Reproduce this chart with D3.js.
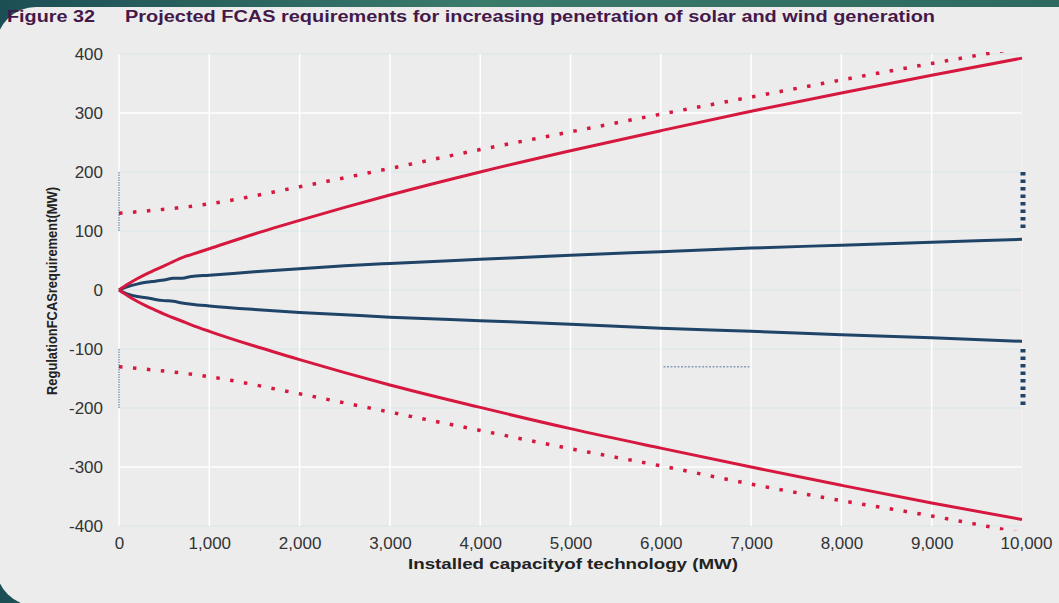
<!DOCTYPE html>
<html>
<head>
<meta charset="utf-8">
<script src="https://cdn.jsdelivr.net/npm/d3@7"></script>
<style>
  html, body { margin: 0; padding: 0; background: #2a6462; }
  svg { display: block; }
</style>
</head>
<body>
<svg id="chart" width="1059" height="603"></svg>
<script>
// Installed capacity (MW) sampled along the projection curves
const capacity = [0, 100, 200, 300, 400, 500, 600, 700, 800, 1000, 1500, 2000, 2500, 3000, 4000, 5000, 6000, 7000, 8000, 9000, 10000];

// Regulation FCAS requirement (MW)
const solarRaiseUpper = [0, 10, 19, 27, 34, 41, 48, 55, 60, 70, 95, 118, 140, 161, 200, 236, 270, 303, 334, 364, 393];
const solarLowerUpper = [0, -10, -19, -27, -34, -41, -47, -53, -59, -70, -95, -118, -140, -161, -199, -235, -268, -300, -331, -361, -389];
const windRaiseUpper  = [0, 6, 10, 13, 15, 17, 20, 20, 23, 25, 31, 36, 41, 45, 52, 59, 65, 71, 76, 81, 86];
const windLowerUpper  = [0, -7, -11, -13, -16, -18, -19, -22, -24, -27, -33, -38, -42, -46, -52, -58, -65, -70, -76, -81, -87];

// Dotted bounds
const boundCapacity = [0, 1000, 2000, 3000, 4000, 5000, 6000, 7000, 8000, 9000, 10000];
const boundUpper = [130, 146, 175, 206, 238, 268, 298, 327, 356, 384, 411];
const boundLower = [-130, -147, -176, -207, -238, -269, -298, -329, -357, -383, -412];

// Tick labels
const xTicks = [0, 1000, 2000, 3000, 4000, 5000, 6000, 7000, 8000, 9000, 10000];
const yTicks = [400, 300, 200, 100, 0, -100, -200, -300, -400];

const svg = d3.select("#chart");
const W = 1059, H = 603;

// Frame: teal backdrop with a light rounded panel
const defs = svg.append("defs");
const grad = defs.append("linearGradient").attr("id", "band").attr("x1", "0").attr("x2", "1").attr("y1", "0").attr("y2", "0");
grad.append("stop").attr("offset", "0").attr("stop-color", "#1c4f55");
grad.append("stop").attr("offset", "0.45").attr("stop-color", "#3a7a6b");
grad.append("stop").attr("offset", "1").attr("stop-color", "#2d695f");
svg.append("rect").attr("width", W).attr("height", H).attr("fill", "url(#band)");
svg.append("rect").attr("x", -4).attr("y", 7).attr("width", W + 60).attr("height", 599)
  .attr("rx", 40).attr("ry", 40).attr("fill", "#ececec");

const x = d3.scaleLinear().domain([0, 10000]).range([119, 1022]);
const y = d3.scaleLinear().domain([-400, 400]).range([526, 54]);

// Title
const title = svg.append("g").attr("fill", "#45184a").attr("font-family", "Liberation Sans, Arial, sans-serif")
  .attr("font-weight", "bold").attr("font-size", 16);
title.append("text").attr("x", 7).attr("y", 22).attr("textLength", 88).attr("lengthAdjust", "spacingAndGlyphs").text("Figure 32");
title.append("text").attr("x", 125).attr("y", 22).attr("textLength", 810).attr("lengthAdjust", "spacingAndGlyphs")
  .text("Projected FCAS requirements for increasing penetration of solar and wind generation");

// Gridlines
const grid = svg.append("g");
grid.selectAll("line.h").data(yTicks).join("line")
  .attr("x1", x(0)).attr("x2", x(10000)).attr("y1", d => y(d)).attr("y2", d => y(d))
  .attr("stroke", d => (d === 300 || d === -300) ? "#ffffff" : "#dfe8eb").attr("stroke-width", 1.5);
grid.selectAll("line.v").data(xTicks).join("line")
  .attr("x1", d => x(d)).attr("x2", d => x(d)).attr("y1", y(400)).attr("y2", y(-400))
  .attr("stroke", d => d === 10000 ? "#f6eeee" : "#ffffff").attr("stroke-width", 1.5);

// Axes
const tickFont = "Liberation Sans, Arial, sans-serif";
const yAxis = svg.append("g").attr("transform", `translate(103,0)`)
  .call(d3.axisLeft(y).tickValues(yTicks).tickSize(0).tickPadding(0).tickFormat(d => String(d)));
yAxis.select(".domain").remove();
yAxis.selectAll("text").attr("font-family", tickFont).attr("font-size", 17).attr("fill", "#333").attr("dy", "0.35em");

const xAxis = svg.append("g").attr("transform", `translate(0,530)`)
  .call(d3.axisBottom(x).tickValues(xTicks).tickSize(0).tickPadding(0).tickFormat(d3.format(",")));
xAxis.select(".domain").remove();
xAxis.selectAll("text").attr("font-family", tickFont).attr("font-size", 17).attr("fill", "#333").attr("dy", "1.1em");
xAxis.selectAll(".tick").filter(d => d === 10000).select("text").attr("dx", 4);

// Axis titles
svg.append("text").attr("x", 573).attr("y", 569).attr("text-anchor", "middle")
  .attr("font-family", tickFont).attr("font-weight", "bold").attr("font-size", 15).attr("fill", "#222")
  .attr("textLength", 330).attr("lengthAdjust", "spacingAndGlyphs")
  .text("Installed capacityof technology (MW)");
svg.append("text").attr("transform", "translate(57,291) rotate(-90)").attr("text-anchor", "middle")
  .attr("font-family", tickFont).attr("font-weight", "bold").attr("font-size", 15).attr("fill", "#222")
  .attr("textLength", 208).attr("lengthAdjust", "spacingAndGlyphs")
  .text("RegulationFCASrequirement(MW)");

// Clip for the series
defs.append("clipPath").attr("id", "plot").append("rect")
  .attr("x", x(0) - 2).attr("y", y(400) - 2).attr("width", x(10000) - x(0) + 6).attr("height", y(-404) - y(400) + 4);
const plot = svg.append("g").attr("clip-path", "url(#plot)");

const RED = "#d6173e", BLUE = "#1f4468";

// Reference markers
plot.append("line").attr("x1", x(0)).attr("x2", x(0)).attr("y1", y(200)).attr("y2", y(100))
  .attr("stroke", "#5c7c9c").attr("stroke-width", 1.2).attr("stroke-dasharray", "1.5,1");
plot.append("line").attr("x1", x(0)).attr("x2", x(0)).attr("y1", y(-100)).attr("y2", y(-200))
  .attr("stroke", "#5c7c9c").attr("stroke-width", 1.2).attr("stroke-dasharray", "1.5,1");
plot.append("line").attr("x1", x(6030)).attr("x2", x(7000)).attr("y1", y(-130)).attr("y2", y(-130))
  .attr("stroke", "#8aa0b8").attr("stroke-width", 1.6).attr("stroke-dasharray", "2,1.5");
plot.append("line").attr("x1", x(10000) + 1).attr("x2", x(10000) + 1).attr("y1", y(200)).attr("y2", y(100))
  .attr("stroke", BLUE).attr("stroke-width", 5).attr("stroke-dasharray", "3.5,4");
plot.append("line").attr("x1", x(10000) + 1).attr("x2", x(10000) + 1).attr("y1", y(-100)).attr("y2", y(-200))
  .attr("stroke", BLUE).attr("stroke-width", 5).attr("stroke-dasharray", "3.5,4");

// Dotted bounds
const bound = vals => d3.line().x((d, i) => x(boundCapacity[i])).y(d => y(d)).curve(d3.curveMonotoneX)(vals);
[boundUpper, boundLower].forEach(v => {
  plot.append("path").attr("d", bound(v)).attr("fill", "none").attr("stroke", RED)
    .attr("stroke-width", 3.5).attr("stroke-dasharray", "3.5,10.5");
});

// Projection curves
const curve = vals => d3.line().x((d, i) => x(capacity[i])).y(d => y(d)).curve(d3.curveMonotoneX)(vals);
[[windRaiseUpper, BLUE], [windLowerUpper, BLUE], [solarRaiseUpper, RED], [solarLowerUpper, RED]].forEach(([v, c]) => {
  plot.append("path").attr("d", curve(v)).attr("fill", "none").attr("stroke", c).attr("stroke-width", 3);
});
</script>
</body>
</html>
